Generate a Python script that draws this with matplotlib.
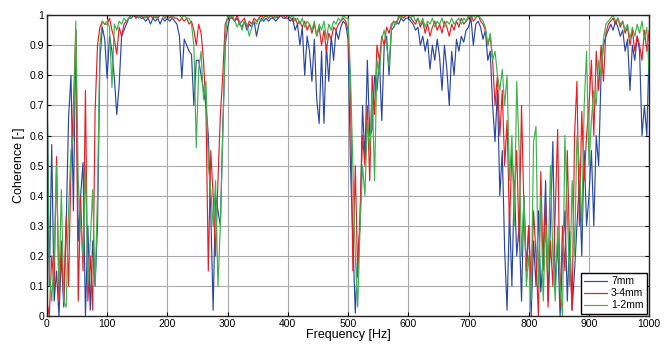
import numpy as np
import matplotlib
matplotlib.use("Agg")
import matplotlib.pyplot as plt

plt.rcParams['font.family'] = ['Liberation Sans', 'DejaVu Sans']

freq = np.arange(0, 1001, 4)

coh_7mm = [
    0.80, 0.10, 0.57, 0.05, 0.15, 0.00, 0.20, 0.03, 0.30, 0.66, 0.80, 0.35, 0.95, 0.25, 0.40, 0.51, 0.00, 0.30, 0.02, 0.25, 0.10, 0.30, 0.85, 0.96, 0.92,
    0.79, 0.93, 0.88, 0.79, 0.67, 0.77, 0.93, 0.95, 0.97, 0.99, 0.99, 1.00, 0.99, 1.00, 0.99, 0.99, 0.98, 0.99, 0.97, 0.99, 0.98, 0.99, 0.97, 0.99, 0.98,
    0.99, 0.98, 0.99, 0.98, 0.97, 0.93, 0.79, 0.92, 0.90, 0.88, 0.87, 0.70, 0.85, 0.85, 0.80, 0.75, 0.70, 0.60, 0.35, 0.02, 0.40, 0.35, 0.30, 0.62, 0.90,
    0.96, 0.99, 0.99, 0.98, 0.99, 0.97, 0.96, 0.98, 0.95, 0.97, 0.96, 0.98, 0.93, 0.97, 0.99, 0.98, 0.99, 0.98, 0.99, 0.99, 0.98, 0.99, 1.00, 0.99, 0.99,
    0.99, 0.98, 0.99, 0.95, 0.97, 0.90, 0.96, 0.80, 0.93, 0.88, 0.78, 0.92, 0.72, 0.64, 0.88, 0.64, 0.90, 0.78, 0.93, 0.85, 0.95, 0.92, 0.96, 0.98, 0.97,
    0.92, 0.50, 0.25, 0.01, 0.20, 0.30, 0.70, 0.52, 0.85, 0.60, 0.62, 0.80, 0.75, 0.85, 0.65, 0.90, 0.93, 0.80, 0.95, 0.96, 0.98, 0.97, 0.99, 0.98, 0.99,
    0.99, 0.98, 0.97, 0.95, 0.96, 0.90, 0.93, 0.88, 0.92, 0.82, 0.90, 0.85, 0.92, 0.86, 0.75, 0.90, 0.82, 0.70, 0.88, 0.80, 0.92, 0.88, 0.93, 0.91, 0.95,
    0.96, 0.99, 0.90, 0.97, 0.98, 0.96, 0.92, 0.95, 0.85, 0.88, 0.70, 0.58, 0.75, 0.40, 0.55, 0.22, 0.02, 0.35, 0.10, 0.45, 0.20, 0.30, 0.05, 0.40, 0.15,
    0.30, 0.00, 0.25, 0.10, 0.35, 0.08, 0.20, 0.45, 0.05, 0.30, 0.58, 0.10, 0.25, 0.00, 0.20, 0.35, 0.05, 0.28, 0.02, 0.15, 0.30, 0.45, 0.20, 0.55, 0.30,
    0.40, 0.55, 0.30, 0.60, 0.50, 0.80, 0.90, 0.93, 0.95, 0.97, 0.95, 0.98, 0.96, 0.93, 0.95, 0.88, 0.92, 0.75, 0.90, 0.85, 0.93, 0.88, 0.60, 0.70, 0.60,
    0.90,
]

coh_34mm = [
    0.05, 0.00, 0.20, 0.10, 0.53, 0.05, 0.25, 0.05, 0.33, 0.10, 0.50, 0.70, 0.95, 0.05, 0.40, 0.15, 0.75, 0.05, 0.20, 0.02, 0.68, 0.90, 0.96, 0.98, 0.97,
    0.97, 0.99, 0.95, 0.92, 0.87, 0.96, 0.93, 0.97, 0.98, 0.99, 1.00, 1.00, 0.99, 1.00, 1.00, 0.99, 1.00, 0.99, 1.00, 0.99, 1.00, 0.99, 1.00, 1.00, 0.99,
    1.00, 0.99, 1.00, 0.99, 0.99, 0.98, 0.99, 0.98, 0.99, 0.97, 0.98, 0.95, 0.90, 0.97, 0.94, 0.85, 0.70, 0.15, 0.55, 0.40, 0.20, 0.45, 0.67, 0.80, 0.97,
    0.99, 1.00, 0.99, 0.98, 1.00, 0.97, 0.98, 0.99, 0.96, 0.98, 0.97, 0.99, 0.98, 0.99, 1.00, 0.99, 1.00, 0.99, 1.00, 0.99, 1.00, 0.99, 1.00, 1.00, 0.99,
    1.00, 0.99, 0.98, 0.99, 0.97, 0.98, 0.96, 0.98, 0.95, 0.97, 0.94, 0.97, 0.93, 0.96, 0.90, 0.95, 0.88, 0.94, 0.92, 0.96, 0.95, 0.97, 0.98, 0.99, 0.98,
    0.95, 0.75, 0.15, 0.50, 0.13, 0.35, 0.60, 0.50, 0.70, 0.45, 0.80, 0.67, 0.90, 0.85, 0.93, 0.90, 0.96, 0.94, 0.97, 0.98, 0.97, 0.99, 1.00, 0.99, 1.00,
    1.00, 0.99, 0.98, 0.97, 0.99, 0.96, 0.98, 0.94, 0.97, 0.93, 0.96, 0.98, 0.95, 0.97, 0.94, 0.98, 0.96, 0.93, 0.97, 0.95, 0.98, 0.96, 0.99, 0.97, 0.98,
    0.99, 1.00, 0.98, 0.99, 1.00, 0.98, 0.97, 0.95, 0.90, 0.93, 0.85, 0.70, 0.80, 0.60, 0.75, 0.50, 0.65, 0.30, 0.55, 0.40, 0.55, 0.25, 0.70, 0.35, 0.15,
    0.30, 0.10, 0.35, 0.20, 0.00, 0.48, 0.15, 0.38, 0.03, 0.25, 0.10, 0.35, 0.62, 0.03, 0.30, 0.15, 0.55, 0.20, 0.02, 0.60, 0.78, 0.30, 0.68, 0.45, 0.60,
    0.70, 0.85, 0.60, 0.88, 0.75, 0.90, 0.78, 0.94, 0.97, 0.98, 0.99, 0.97, 0.99, 0.96, 0.98, 0.94, 0.96, 0.90, 0.95, 0.88, 0.93, 0.90, 0.85, 0.95, 0.88,
    0.95,
]

coh_12mm = [
    0.80, 0.15, 0.05, 0.20, 0.50, 0.10, 0.42, 0.05, 0.03, 0.35, 0.55, 0.60, 0.98, 0.45, 0.30, 0.20, 0.50, 0.10, 0.25, 0.42, 0.10, 0.40, 0.90, 0.98, 0.97,
    0.98, 0.96, 0.76, 0.97, 0.95, 0.98, 0.97, 0.99, 0.98, 0.99, 1.00, 1.00, 1.00, 0.99, 1.00, 1.00, 0.99, 1.00, 1.00, 1.00, 0.99, 1.00, 1.00, 1.00, 0.99,
    1.00, 1.00, 0.99, 1.00, 1.00, 1.00, 0.99, 1.00, 0.99, 0.99, 0.97, 0.90, 0.56, 0.82, 0.88, 0.72, 0.78, 0.50, 0.42, 0.30, 0.45, 0.10, 0.30, 0.60, 0.92,
    1.00, 0.99, 1.00, 0.98, 0.96, 0.98, 0.95, 0.98, 0.97, 0.93, 0.96, 0.98, 0.97, 0.99, 0.98, 0.99, 1.00, 0.99, 1.00, 1.00, 0.99, 1.00, 1.00, 1.00, 1.00,
    1.00, 0.99, 1.00, 0.98, 0.99, 0.97, 0.99, 0.96, 0.98, 0.97, 0.95, 0.98, 0.93, 0.97, 0.95, 0.98, 0.92, 0.97, 0.95, 0.98, 0.97, 0.99, 0.98, 1.00, 0.99,
    0.99, 0.80, 0.50, 0.20, 0.03, 0.30, 0.50, 0.40, 0.65, 0.55, 0.75, 0.45, 0.85, 0.80, 0.92, 0.95, 0.90, 0.83, 0.96, 0.98, 0.97, 1.00, 0.99, 1.00, 1.00,
    1.00, 0.99, 1.00, 0.98, 0.99, 0.97, 0.99, 0.96, 0.98, 0.97, 0.99, 0.96, 0.98, 0.97, 0.99, 0.96, 0.98, 0.97, 0.99, 0.97, 0.98, 0.99, 0.97, 0.99, 0.98,
    1.00, 0.99, 1.00, 0.99, 1.00, 0.99, 0.98, 0.96, 0.90, 0.94, 0.85, 0.88, 0.80, 0.75, 0.82, 0.70, 0.80, 0.45, 0.60, 0.30, 0.78, 0.55, 0.20, 0.40, 0.10,
    0.20, 0.05, 0.58, 0.63, 0.10, 0.40, 0.05, 0.30, 0.15, 0.50, 0.20, 0.05, 0.30, 0.10, 0.00, 0.60, 0.35, 0.10, 0.45, 0.20, 0.60, 0.50, 0.30, 0.70, 0.88,
    0.50, 0.65, 0.75, 0.70, 0.85, 0.80, 0.92, 0.97, 0.98, 0.99, 1.00, 0.98, 0.99, 0.97, 0.98, 0.95, 0.97, 0.92, 0.96, 0.93, 0.97, 0.94, 0.98, 0.92, 0.96,
    0.80,
]

series_labels = ['7mm', '3-4mm', '1-2mm']
series_colors = ['#2a47a5', '#ed1c24', '#3cb44a']

x_ticks = [0, 100, 200, 300, 400, 500, 600, 700, 800, 900, 1000]
y_ticks = [0, 0.1, 0.2, 0.3, 0.4, 0.5, 0.6, 0.7, 0.8, 0.9, 1]
y_tick_labels = ['0', '0.1', '0.2', '0.3', '0.4', '0.5', '0.6', '0.7', '0.8', '0.9', '1']

fig = plt.figure(figsize=(6.7, 3.44), dpi=100)
ax = fig.add_axes([0.070, 0.081, 0.899, 0.875])

for vals, lab, col in zip([coh_7mm, coh_34mm, coh_12mm], series_labels, series_colors):
    ax.plot(freq, vals, color=col, lw=0.85, label=lab)

ax.set_xlim(0, 1000)
ax.set_ylim(0, 1)
ax.set_xticks(x_ticks)
ax.set_yticks(y_ticks)
ax.set_yticklabels(y_tick_labels)
ax.grid(True, color='#a8a8a8', lw=0.8)
ax.set_axisbelow(True)
ax.tick_params(direction='in', top=True, right=True, labelsize=7.5, length=3, width=0.8, pad=2)
for s in ax.spines.values():
    s.set_linewidth(1.0)
    s.set_color('#222222')
ax.set_xlabel('Frequency [Hz]', fontsize=9, labelpad=0)
ax.set_ylabel('Coherence [-]', fontsize=9, labelpad=3)

leg = ax.legend(loc='lower right', fontsize=7.5, frameon=True, fancybox=False,
                edgecolor='black', framealpha=1, handlelength=2.2,
                borderpad=0.3, labelspacing=0.2, handletextpad=0.4,
                borderaxespad=0.25)
leg.get_frame().set_linewidth(1.0)

fig.savefig('out.png', dpi=100)
